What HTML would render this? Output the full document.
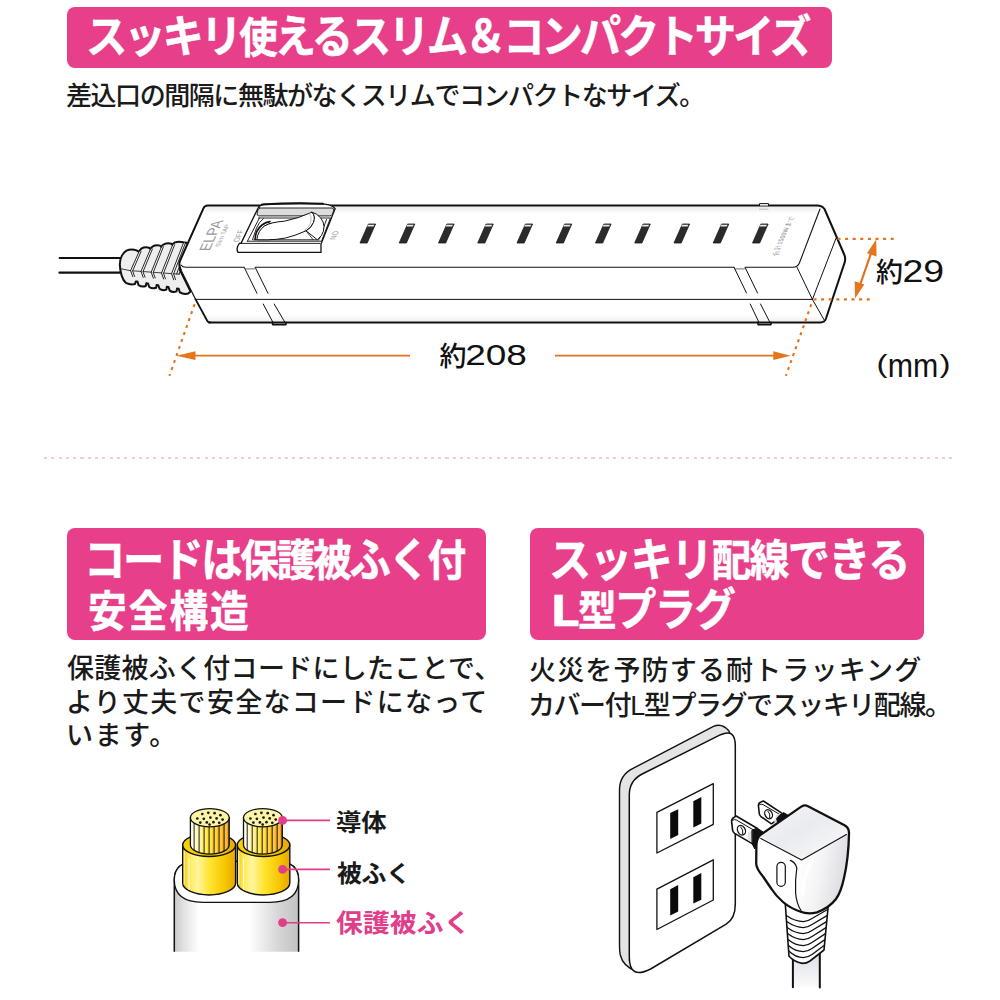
<!DOCTYPE html>
<html lang="ja">
<head>
<meta charset="utf-8">
<title>スリム＆コンパクトサイズ</title>
<style>
html,body{margin:0;padding:0;background:#fff;}
body{width:1000px;height:1000px;position:relative;overflow:hidden;font-family:"Liberation Sans","Noto Sans CJK JP",sans-serif;color:#111;}
.banner{position:absolute;background:#e73f8a;border-radius:8px;}
.h{position:absolute;white-space:nowrap;color:#fff;font-weight:700;transform-origin:0 0;line-height:1;font-family:"Noto Sans CJK JP",sans-serif;}
.h .k{font-size:1.07em;}
.h{-webkit-text-stroke:0.5px #fff;}
.h .L{display:inline-block;transform:scaleX(1.35);transform-origin:0 50%;margin-right:8px;}
.p{position:absolute;white-space:nowrap;color:#1a1a1a;font-weight:500;transform-origin:0 0;line-height:1;}
.dots{position:absolute;left:44px;top:457px;width:912px;height:2px;background:repeating-linear-gradient(90deg,#f5cbd9 0,#f5cbd9 3px,transparent 3px,transparent 7.3px);}
svg{position:absolute;left:0;top:0;}
</style>
</head>
<body>
<!-- top banner -->
<div class="banner" style="left:67px;top:7px;width:765px;height:61px;"></div>
<div class="h" id="t1" style="left:86px;top:11.5px;font-size:42px;letter-spacing:-3.32px;transform:scaleX(0.92);"><span class="k">スッキリ</span>使<span class="k">えるスリム＆コンパクトサイズ</span></div>
<div class="p" id="s1" style="left:66px;top:83px;font-size:26px;letter-spacing:-1.44px;">差込口の間隔に無駄がなくスリムでコンパクトなサイズ。</div>

<div class="dots"></div>

<!-- left banner -->
<div class="banner" style="left:67px;top:528px;width:419px;height:112px;"></div>
<div class="h" id="t2a" style="left:84px;top:532.7px;font-size:43px;letter-spacing:-2.59px;transform:scaleX(0.9);"><span class="k">コードは</span>保護被<span class="k">ふく</span>付</div>
<div class="h" id="t2b" style="left:88px;top:586.5px;font-size:43px;letter-spacing:2.22px;transform:scaleX(0.9);">安全構造</div>
<div class="p" id="b1" style="left:67px;top:656px;font-size:27px;letter-spacing:0.27px;">保護被ふく付コードにしたことで、</div>
<div class="p" id="b2" style="left:66px;top:690px;font-size:27px;letter-spacing:1.29px;">より丈夫で安全なコードになって</div>
<div class="p" id="b3" style="left:66px;top:723px;font-size:27px;letter-spacing:1.67px;">います。</div>

<!-- right banner -->
<div class="banner" style="left:530px;top:528px;width:394px;height:112px;"></div>
<div class="h" id="t3a" style="left:548.5px;top:532.5px;font-size:43px;letter-spacing:-1.77px;transform:scaleX(0.92);"><span class="k">スッキリ</span>配線<span class="k">できる</span></div>
<div class="h" id="t3b" style="left:549.5px;top:584.5px;font-size:42px;letter-spacing:-1.8px;transform:scaleX(0.92);"><span class="L">L</span>型<span class="k">プラグ</span></div>
<div class="p" id="c1" style="left:529px;top:658px;font-size:27px;letter-spacing:1.15px;">火災を予防する耐トラッキング</div>
<div class="p" id="c2" style="left:528px;top:693px;font-size:27px;letter-spacing:-1.44px;">カバー付L型プラグでスッキリ配線。</div>

<!-- cable labels -->
<div class="p" id="l1" style="left:336.4px;top:812px;font-size:23.5px;letter-spacing:-0.19px;transform:scaleX(1.08);font-weight:700;">導体</div>
<div class="p" id="l2" style="left:337.4px;top:862.8px;font-size:23.5px;letter-spacing:-0.38px;transform:scaleX(1.06);font-weight:700;">被ふく</div>
<div class="p" id="l3" style="left:336.2px;top:911px;font-size:25.5px;letter-spacing:0.14px;transform:scaleX(1.05);font-weight:700;color:#e03e8a;">保護被ふく</div>

<svg id="art" width="1000" height="1000" viewBox="0 0 1000 1000">
<!-- ============ POWER STRIP ============ -->
<defs>
  <linearGradient id="gTop" x1="0" y1="0" x2="0" y2="1"><stop offset="0" stop-color="#ececec"/><stop offset="1" stop-color="#fff"/></linearGradient>
  <linearGradient id="gBot" x1="0" y1="0" x2="0" y2="1"><stop offset="0" stop-color="#fff"/><stop offset="1" stop-color="#efefef"/></linearGradient>
</defs>
<g id="strip" fill="none" stroke="#111" stroke-linecap="round" stroke-linejoin="round">
  <!-- cord -->
  <path d="M59.5 258H122" stroke-width="1.8"/>
  <path d="M59.5 272.7H122" stroke-width="2.2"/>
  <!-- strain relief -->
  <path d="M119.8 264.6 Q120.2 254.5 126.4 250.6 Q131.4 248.4 136.6 250.4 L139 251.8 Q139.6 249.8 141.4 248.6 Q145 246.4 149.2 247.8 L150.4 249.2 Q151 247.4 152.8 246.4 Q155.8 244.6 160 245.6 L161.4 247 Q162 245.2 163.8 244.4 Q167.2 242.6 171.4 243.7 L172.6 245 Q173.2 243.2 175 242.4 Q178.6 241 183.4 242.2 L190 243.6 L181 262 L180 270 L190.6 291.5 L188.2 293.6 Q183.4 294.6 179.9 292.4 L178.7 288.8 L177 288.6 L176.6 291.4 Q172.6 292.8 169.7 290.6 L168.5 287 L166.8 286.8 L166.4 289.6 Q162.4 291 159.5 288.8 L158.3 285.2 L156.6 285 L156.2 287.8 Q152.2 289.2 149.2 287 L148 283.4 L146.3 283.2 L145.8 286 Q142 287.4 138.6 285.2 L137.4 281.4 L135.8 281.4 L135 284 Q130.6 285.2 125.8 282.8 Q120.6 278 119.8 264.6Z" fill="#eeeeee" stroke-width="2"/>
  <path d="M120 268.6 L130 270.6 L179.4 274.2" stroke-width="0.8"/>
  <g stroke="#fff" stroke-width="1.1">
    <path d="M140 251.8 L131.6 270.7 L133.7 276.5 M151.4 249.2 L142 271.5 L144.1 277.3 M162.4 247 L152.2 272.3 L154.3 278.1 M173.6 245 L162.5 273.1 L164.5 278.9 M184.4 243.2 L172.6 273.7 L174.6 279.7"/>
  </g>
  <g stroke-width="0.9">
    <path d="M139 251.8 L130.6 270.6 L132.8 276.6 M141 251.6 L132.6 270.9 L134.6 276.4"/>
    <path d="M150.4 249.2 L141 271.4 L143.2 277.4 M152.4 249 L143 271.7 L145 277.2"/>
    <path d="M161.4 247 L151.2 272.2 L153.4 278.2 M163.4 246.8 L153.2 272.5 L155.2 278"/>
    <path d="M172.6 245 L161.5 273 L163.6 279 M174.6 244.8 L163.5 273.3 L165.4 278.8"/>
    <path d="M183.4 243 L171.6 273.6 L173.7 279.8 M185.4 243 L173.6 273.9 L175.5 279.6"/>
    <path d="M187.4 245.5 L176.6 274 M189 248 L179 274.2"/>
  </g>
  <!-- body outline (filled white) -->
  <path d="M208 205.6 H817 Q822 205.6 824.5 209 L844.2 254.5 Q846 258.5 844.6 262.6 L826 318.5 Q824.6 322.4 820.5 322.4 H210 Q207.6 322.4 206.5 320 L195 298.6 L180.2 268.5 Q178.4 264.5 180 260.8 L203.3 208.6 Q204.6 205.6 208 205.6Z" fill="#fff" stroke="none"/>
  <path d="M207 206.6 H818 L816 214 H204Z" fill="url(#gTop)" stroke="none"/>
  <path d="M204.5 315 H820 L823.5 321.4 H208Z" fill="url(#gBot)" stroke="none"/>
  <path d="M180.6 269.3 L195.6 299.4" stroke-width="1.2"/>
  <path d="M195.6 299.4 L206.8 320 Q207.9 322.4 210.4 322.4" stroke-width="1.8"/>
  <path d="M180.6 269.3 Q178.4 264.5 180 260.8 L203.3 208.6 Q204.6 205.6 208 205.6 H817 Q822 205.6 824.5 209 L844.2 254.5 Q846 258.5 844.6 262.6 L826 318.5 Q824.6 322.4 820.5 322.4 H209" stroke-width="2"/>
  <!-- front edge of top face -->
  <path d="M181 265 Q182.5 267.3 186 267.3 H244.3 M255.3 267.3 H734.2 M745.2 267.3 H793 Q797.8 267.3 799.6 262.5 L820 209" stroke-width="1.1"/>
  <!-- middle line -->
  <path d="M195.2 299.4 H812.4" stroke-width="1"/>
  <!-- end face lines -->
  <path d="M836 238.3 L812.4 299.4 L824.5 320.5 M797 267.3 L812.4 299.4" stroke-width="1"/>
  <!-- bands left -->
  <path d="M245.5 268.8H254.5 M735.5 268.8H744.5" stroke="#888" stroke-width="1.2"/>
  <path d="M244.3 267.6 L257 293.3 M255.3 267.6 L268 293.3 M263.2 304 L273 322.5 M274.2 304 L285 322.5" stroke-width="1"/>
  <path d="M272.6 322.4 V324.6 H286 V322.4" stroke-width="1.6"/>
  <!-- bands right -->
  <path d="M734.2 267.6 L746.5 293 M745.2 267.6 L757.5 293 M750.2 304 L759 322.5 M760.5 304 L770 322.5" stroke-width="1"/>
  <path d="M758 322.4 V324.6 H771 V322.4" stroke-width="1.6"/>
  <!-- small bump at top right -->
  <path d="M759.5 205.6 V203.6 H768.5 V205.6" stroke-width="1" fill="#fff"/>
  <path d="M759.5 209.2 H768" stroke="#bbb" stroke-width="1"/>
</g>
<g id="switch" fill="none" stroke="#111" stroke-linecap="round" stroke-linejoin="round" stroke-width="1">
  <!-- frame outer -->
  <path d="M257.6 209 Q259.5 205 264 204.4 Q293 203 321.6 203.8 Q332 204.2 335.2 208.6 L321 244 V252.4 H238 Q235.6 248 239.4 243.4 H241 Z" fill="#fff" stroke-width="1.3"/>
  <path d="M262 204.6 Q293 202.6 323 203.8" stroke-width="2"/>
  <!-- grey top band -->
  <path d="M259.5 208 H332 Q334.6 208.3 333.6 211 L332.3 214.4 Q331.6 215.9 329.5 215.9 H258.8 Q256.4 215.6 257.2 213 L258 210 Q258.5 208.2 259.5 208Z" fill="#dcdcdc" stroke-width="0.9"/>
  <path d="M258.5 218 H330.5" stroke-width="0.9"/>
  <!-- inner side lines -->
  <path d="M259.4 218 L247.4 241.2 M263.5 218.5 Q259 222 256.5 228 L252.5 239.6 M330.2 218.6 L321.8 240.4 M326.5 219.5 L319.6 238.5" stroke-width="0.9"/>
  <!-- bottom bar -->
  <path d="M239.4 243.4 H319.8 M247.4 241.2 H321 M253.8 239.8 H319" stroke-width="0.9"/>
  <!-- pivot arcs -->
  <path d="M255 239.5 Q255.5 230 262 225 Q266 222 270 221.6" stroke-width="1.6"/>
  <path d="M257.6 239.5 Q258 231 264 226.4 Q268 223.4 273 223" stroke-width="0.8"/>
  <path d="M261.5 238.5 Q262.5 231 268 227 Q272 224.6 277 224.2" stroke="#999" stroke-width="0.9"/>
  <!-- rocker top surface -->
  <path d="M256.8 239.4 Q258 230.5 264.5 226 Q270.5 222.2 284.4 221.2 Q298 218.5 312 212.2 Q316 216 313.5 222.5 Q311 228.5 306 230.8 Q296 235.5 285.6 238 Q276 239.8 267.6 239.8 Z" fill="#fff" stroke-width="1"/>
  <path d="M309.5 213.6 Q312.5 217.5 310.5 223 Q308.6 227.8 304.5 230.4" stroke="#aaa" stroke-width="0.8"/>
  <!-- rocker right face -->
  <path d="M312 212.2 Q317 213.5 320.4 217.6 Q324 222 324 226.5 Q324 231.5 321.5 235.4 L317.4 239.8 L306 230.8 Q311 228.5 313.5 222.5 Q316 216 312 212.2Z" fill="#fff" stroke-width="1"/>
  <path d="M306 230.8 L313 239.6" stroke-width="0.8"/>
</g>
<!-- slots -->
<g id="slots">
  <defs>
    <g id="slot">
      <path d="M0 0 L7.2 0 L15.6 -19 L8.4 -19Z" fill="#2c2a2a" stroke="#1a1a1a" stroke-width="0.8" stroke-linejoin="round"/>
      <path d="M8 -18.2 L14.4 -18.2 L13.6 -16.4 L7.2 -16.4Z" fill="#e8e8e8"/>
    </g>
  </defs>
  <use href="#slot" x="360" y="243"/>
  <use href="#slot" x="399.2" y="243"/>
  <use href="#slot" x="438.5" y="243"/>
  <use href="#slot" x="477.7" y="243"/>
  <use href="#slot" x="517" y="243"/>
  <use href="#slot" x="556.2" y="243"/>
  <use href="#slot" x="595.5" y="243"/>
  <use href="#slot" x="634.7" y="243"/>
  <use href="#slot" x="674" y="243"/>
  <use href="#slot" x="713.2" y="243"/>
  <use href="#slot" x="752.5" y="243"/>
</g>
<!-- printed labels on strip -->
<g id="labels" fill="#9a9a9a" font-family="'Liberation Sans',sans-serif">
  <text transform="matrix(0.41 -0.91 1 0 209.5 251)" font-size="15.5" font-weight="400" textLength="34" lengthAdjust="spacingAndGlyphs">ELPA</text>
  <text transform="matrix(0.41 -0.91 1 0 219.5 247)" font-size="6.5" textLength="25" lengthAdjust="spacingAndGlyphs">Slim TAP</text>
  <text transform="matrix(0.41 -0.91 1 0 238.5 242)" font-size="8" textLength="13.5" lengthAdjust="spacingAndGlyphs">OFF</text>
  <text transform="matrix(-0.41 0.91 -1 0 333.5 231)" font-size="8" textLength="9.5" lengthAdjust="spacingAndGlyphs">ON</text>
  <text transform="matrix(0.41 -0.91 1 0 776.5 255.5)" fill="#8c8c8c" font-size="6.8" textLength="43" lengthAdjust="spacingAndGlyphs">合計1500Wまで</text>
</g>
<!-- ============ DIMENSIONS ============ -->
<g id="dims" fill="none" stroke="#e4711c" stroke-width="2.2">
  <path d="M837.5 238.9 H896" stroke-dasharray="3 4.6"/>
  <path d="M813.5 299.3 H870" stroke-dasharray="3 4.6"/>
  <path d="M194.6 304.2 L169.4 375.8" stroke-dasharray="3 4.4" stroke-width="2.1"/>
  <path d="M811.3 304.4 L785.9 375.8" stroke-dasharray="3 4.4" stroke-width="2.1"/>
  <path d="M189 355.7 H410 M555 355.7 H778" stroke-width="1.8"/>
  <path d="M872 250.5 L859.3 287" stroke-width="2.2"/>
  <g fill="#e6751c" stroke="none">
    <path d="M176.3 355.7 L195.5 351.3 L195.5 360.1Z"/>
    <path d="M790.7 355.7 L773.3 351.3 L773.3 360.1Z"/>
    <path d="M876.2 239.4 L876.6 256.5 L867 253.2Z"/>
    <path d="M855 298.4 L854.7 281.3 L864.3 284.6Z"/>
  </g>
</g>
<g id="dimtext" fill="#111">
  <text x="876" y="281.5" font-family="'Noto Sans CJK JP',sans-serif" font-size="27" font-weight="500">約</text>
  <text transform="translate(902.4 281.8) scale(1.17 1)" font-family="'Liberation Sans',sans-serif" font-size="32">29</text>
  <text x="439.5" y="366.3" font-family="'Noto Sans CJK JP',sans-serif" font-size="27" font-weight="500">約</text>
  <text transform="translate(465.2 365.2) scale(1.25 1)" font-family="'Liberation Sans',sans-serif" font-size="29.6">208</text>
  <g id="mm" font-family="'Liberation Sans',sans-serif"><text transform="translate(876.6 373.4) scale(1.25 1)" font-size="26.5">(</text><text transform="translate(887.8 377) scale(0.92 1)" font-size="33">mm</text><text transform="translate(939.6 373.4) scale(1.25 1)" font-size="26.5">)</text></g>
</g>
<!-- ============ CABLE CROSS-SECTION ============ -->
<defs>
  <linearGradient id="gSheath" x1="0" y1="0" x2="1" y2="0">
    <stop offset="0" stop-color="#c9c9c9"/><stop offset="0.07" stop-color="#e0e0e0"/><stop offset="0.2" stop-color="#fff"/>
    <stop offset="0.6" stop-color="#fff"/><stop offset="0.85" stop-color="#d4d4d4"/><stop offset="1" stop-color="#c2c2c2"/>
  </linearGradient>
  <linearGradient id="gIns" x1="0" y1="0" x2="1" y2="0">
    <stop offset="0" stop-color="#f0c000"/><stop offset="0.1" stop-color="#ffe84a"/><stop offset="0.28" stop-color="#fff6a0"/>
    <stop offset="0.5" stop-color="#ffe533"/><stop offset="0.8" stop-color="#f7c600"/><stop offset="1" stop-color="#e6a600"/>
  </linearGradient>
  <linearGradient id="gInsTop" x1="0" y1="0" x2="1" y2="0">
    <stop offset="0" stop-color="#f6d300"/><stop offset="0.6" stop-color="#f2c800"/><stop offset="1" stop-color="#e3ab00"/>
  </linearGradient>
  <pattern id="pStr" width="5" height="40" patternUnits="userSpaceOnUse" x="-20.2" y="810">
    <rect x="0.4" width="2" height="40" fill="#fff" fill-opacity="0.38"/>
    <rect x="4.05" width="0.95" height="40" fill="#111"/>
  </pattern>
  <linearGradient id="gCondShade" x1="0" y1="0" x2="1" y2="0">
    <stop offset="0" stop-color="#ffffff"/><stop offset="0.2" stop-color="#fff3a0"/><stop offset="0.42" stop-color="#ffe01a"/>
    <stop offset="0.68" stop-color="#f9bd00"/><stop offset="1" stop-color="#f09200"/>
  </linearGradient>
  <g id="cond">
    <!-- conductor centred at x=0 ; top ellipse cy=817.7 -->
    <path d="M-19.4 817.7 V845 A19.4 9.1 0 0 0 19.4 845 V817.7Z" fill="url(#gCondShade)" stroke="none"/>
    <path d="M-19.4 817.7 V845 A19.4 9.1 0 0 0 19.4 845 V817.7Z" fill="url(#pStr)" stroke="#111" stroke-width="1.3"/>
    <ellipse cx="0" cy="817.7" rx="19.4" ry="9.1" fill="#fdf4a8" stroke="#111" stroke-width="1.3"/>
    <g fill="#1a1a1a">
      <circle cx="-12.5" cy="818.5" r="1.35"/><circle cx="-7.5" cy="814" r="1.35"/><circle cx="-1.5" cy="812.8" r="1.35"/>
      <circle cx="4.8" cy="813.2" r="1.35"/><circle cx="10.6" cy="815.2" r="1.35"/><circle cx="-6" cy="818.8" r="1.35"/>
      <circle cx="0.6" cy="817.6" r="1.35"/><circle cx="6.8" cy="818.4" r="1.35"/><circle cx="12.8" cy="819.6" r="1.35"/>
      <circle cx="-9.5" cy="822.6" r="1.35"/><circle cx="-3" cy="822.4" r="1.35"/><circle cx="3.6" cy="822.2" r="1.35"/>
      <circle cx="9.4" cy="822.8" r="1.35"/><circle cx="-0.2" cy="824.6" r="1.35"/>
    </g>
  </g>
</defs>
<g id="cable" stroke-linejoin="round">
  <!-- outer sheath -->
  <path d="M174.3 880 V951.7 H298.6 V880 Q298.6 861.4 276 861.4 H197 Q174.3 861.4 174.3 880Z" fill="url(#gSheath)" stroke="none"/>
  <path d="M174.3 951.7 V880 Q174.3 861.4 197 861.4 H276 Q298.6 861.4 298.6 880 V951.7" fill="none" stroke="#111" stroke-width="1.5"/>
  <!-- top face of sheath (white) -->
  <path d="M174.3 880 Q174.3 861.4 197 861.4 H276 Q298.6 861.4 298.6 880 Q298.6 902.3 270 902.3 H203 Q174.3 902.3 174.3 880Z" fill="#fff" stroke="#111" stroke-width="1.3"/>
  <!-- insulators -->
  <g id="insL">
    <path d="M182.7 845 V883 A26.45 12 0 0 0 235.6 883 V845Z" fill="url(#gIns)" stroke="#111" stroke-width="1.4"/>
    <ellipse cx="209.15" cy="845" rx="26.45" ry="11.5" fill="url(#gInsTop)" stroke="#111" stroke-width="1.4"/>
    <path d="M184.2 851 V884.5 M189 858 V890" stroke="#fff" stroke-width="1.2" opacity="0.7" fill="none"/>
  </g>
  <g id="insR">
    <path d="M237.3 845 V883 A26.25 12 0 0 0 289.8 883 V845Z" fill="url(#gIns)" stroke="#111" stroke-width="1.4"/>
    <ellipse cx="263.55" cy="845" rx="26.25" ry="11.5" fill="url(#gInsTop)" stroke="#111" stroke-width="1.4"/>
    <path d="M238.8 851 V884.5 M243.6 858 V890" stroke="#fff" stroke-width="1.2" opacity="0.7" fill="none"/>
  </g>
  <use href="#cond" x="209.8"/>
  <use href="#cond" x="262.9"/>
  <!-- callouts -->
  <g stroke="#e03e8a" stroke-width="1.6" fill="none">
    <path d="M282.6 820.4 H330 M282.6 869.4 H330 M282.6 922.7 H330"/>
  </g>
  <g fill="#e03e8a">
    <circle cx="282.6" cy="820.4" r="4.4"/><circle cx="282.6" cy="869.4" r="4.4"/><circle cx="282.6" cy="922.7" r="4.4"/>
  </g>
</g>
<!-- ============ WALL OUTLET + L PLUG ============ -->
<defs>
  <linearGradient id="gPlugTop" x1="0" y1="0" x2="1" y2="1">
    <stop offset="0" stop-color="#f6f7f9"/><stop offset="0.45" stop-color="#e9ebf0"/><stop offset="1" stop-color="#fbfbfc"/>
  </linearGradient>
  <linearGradient id="gPlugR" x1="0" y1="0" x2="1" y2="0.3">
    <stop offset="0" stop-color="#e9eaee"/><stop offset="0.18" stop-color="#ffffff"/><stop offset="0.55" stop-color="#f4f4f6"/><stop offset="1" stop-color="#dcdde2"/>
  </linearGradient>
  <linearGradient id="gCord2" x1="0" y1="0" x2="0" y2="1">
    <stop offset="0" stop-color="#dcdee6"/><stop offset="1" stop-color="#fafafc"/>
  </linearGradient>
</defs>
<g id="outlet" stroke="#111" stroke-linejoin="round" stroke-linecap="round" fill="none">
  <!-- back/side of plate -->
  <path d="M619.5 790 Q619.5 775 633 768.4 L713.5 726.4 Q722 722.5 729 731 L735.3 748 V905 L629.3 960 L635 970.5 Q623 966 620.3 955 Q619.5 951 619.5 946Z" fill="#e4e4e4" stroke-width="1.4"/>
  <!-- front face -->
  <path d="M629.3 795 Q629.3 780.5 642.2 774 L720.6 734.7 Q735.3 728 735.3 746 V904 Q735.3 918.5 726.2 924.2 L650.6 969 Q629.3 980 629.3 957Z" fill="#fff" stroke-width="1.5"/>
  <!-- sockets -->
  <path d="M656.9 812.4 L713.3 783.7 V824.3 L656.9 853Z" fill="#fff" stroke-width="1.3"/>
  <path d="M656.9 889.2 L713.3 859.8 V900 L656.9 929.5Z" fill="#fff" stroke-width="1.3"/>
  <g fill="#0a0a0a" stroke="none">
    <path d="M670.2 813.1 L678.2 809.3 V835.1 L670.2 839Z"/>
    <path d="M693.3 801.2 L701.3 797 V823.6 L693.3 827.5Z"/>
    <path d="M670.2 889.2 L678.2 885 V911.6 L670.2 915.5Z"/>
    <path d="M693.3 877.3 L701.3 873.1 V899.7 L693.3 903.5Z"/>
  </g>
</g>
<g id="plug" stroke="#111" stroke-linejoin="round" stroke-linecap="round" fill="none">
  <!-- cord -->
  <path d="M792.9 955 V987.3 H819.8 V950Z" fill="url(#gCord2)" stroke="none"/>
  <path d="M792.9 957 V987.3 M819.8 953 V987.6" stroke-width="2"/>
  <!-- strain relief -->
  <path d="M785.3 904 L789 956.3 Q795 962.5 802.5 963.4 Q806.5 963.4 810 961 L824 950 L828.4 904Z" fill="#fff" stroke-width="1.6"/>
  <g stroke-width="1.3">
    <path d="M786.3 915.5 Q795 921.5 803.5 921.6 Q808 921.3 812 918.5 L827.6 909.5"/>
    <path d="M786.7 921.5 Q795.5 927.5 803.5 927.6 Q808 927.3 812 924.5 L827 915.6"/>
    <path d="M787.1 927.5 Q795.5 933.5 803.5 933.6 Q808 933.3 812 930.5 L826.5 921.6"/>
    <path d="M787.6 933.5 Q795.5 939.5 803.5 939.6 Q808 939.3 812 936.5 L826 927.6"/>
    <path d="M788 939.5 Q795.5 945.5 803.5 945.6 Q808 945.3 812 942.5 L825.4 933.6"/>
    <path d="M788.4 945.5 Q795.5 951.5 803.5 951.6 Q808 951.3 812 948.5 L824.9 939.6"/>
    <path d="M788.8 951 Q795.5 957.5 803.5 957.6 Q808 957.3 812 954.5 L824.4 945.2"/>
  </g>
  <!-- blades (upper/back one) -->
  <path d="M771.4 823.8 L761 816.6 Q759.2 815.4 759.2 813 L758.4 805.4 Q758.6 802.6 761.4 801.8 L763.4 801 L781 812.6 L783 816Z" fill="#fff" stroke-width="1.6"/>
  <path d="M759.6 804.6 Q761.2 803.6 763 804.6 L780 814.6" stroke-width="1"/>
  <path d="M776 815 L781 813 L783 816 L774 823Z" fill="#e2e2e2" stroke="none"/>
  <ellipse cx="768.6" cy="814.2" rx="3.6" ry="4.8" transform="rotate(-28 768.6 814.2)" fill="#fff" stroke-width="1.3"/>
  <path d="M768 811.2 Q770.6 813.6 769.8 817.6" stroke-width="1"/>
  <path d="M780.2 814.6 L783.6 812.6 L788 815.2 L782.6 819.6 L778 822.6 L776.6 819Z" fill="#111" stroke-width="1"/>
  <!-- blades (lower/front one) -->
  <path d="M752.2 843.6 L734.6 833.4 Q732.8 832.2 732.6 830.2 L731.6 821.4 Q731.6 818.4 734.4 817.2 L736.2 816 L757 828.2 L758 834Z" fill="#fff" stroke-width="1.6"/>
  <path d="M732.6 820.2 Q734.4 819 736.4 820 L754.6 830.6" stroke-width="1"/>
  <path d="M748 832 L754 830.4 L753 843 L747.6 840Z" fill="#e2e2e2" stroke="none"/>
  <ellipse cx="741.4" cy="830.2" rx="3.8" ry="5" transform="rotate(-28 741.4 830.2)" fill="#fff" stroke-width="1.3"/>
  <path d="M740.8 827 Q743.6 829.6 742.8 833.8" stroke-width="1"/>
  <path d="M752.2 830.2 L757 828 L763 832 L758.6 837 L757 843.4 L754.8 849 L752.2 844Z" fill="#111" stroke-width="1"/>
  <!-- body silhouette -->
  <path d="M760 835.2 L801.6 806.4 Q804.8 804.6 808 806.2 L844.5 825.3 Q849.3 828 849 833.5 Q848.6 858 844 878 Q841 892 836 899 Q829 908 817 912.3 Q808 914.6 800 911.5 Q790 908 783 902 Q776 896 771.5 889 L763 876.5 Q756.6 869 756.2 864 L756.4 845 Q756.8 838.5 760 835.2Z" fill="#fff" stroke="none"/>
  <!-- top face -->
  <path d="M760.6 836.4 L801.6 806.4 Q804.8 804.6 808 806.2 L844.5 825.3 Q848 827.5 848.6 831.5 L846.4 834.4 L801.6 860Z" fill="url(#gPlugTop)" stroke="none"/>
  <!-- right/front face -->
  <path d="M801.6 860 L846.4 834.4 L848.8 833 Q848.6 858 844 878 Q841 892 836 899 Q829 908 817 912.3 Q808 914.6 801.5 912 Q796.6 904 795.6 893 Q795 880 796.8 868 Q797.6 862.5 801.6 860Z" fill="url(#gPlugR)" stroke="none"/>
  <!-- highlight streak -->
  <path d="M812 860 Q803.5 876 802.5 894" stroke="#fff" stroke-width="3.2" opacity="0.9"/>
  <!-- inner edges -->
  <path d="M760.8 838.4 L801.6 860 L846.4 834.4" stroke-width="1.1"/>
  <path d="M790.4 860.4 Q795.5 862.5 796.8 868 Q795 880 795.6 893 Q796.6 904 801 910.5" stroke-width="1.2"/>
  <rect x="776.9" y="862.4" width="8.4" height="24" rx="4.2" fill="#fff" stroke-width="1.2"/>
  <!-- outline -->
  <path d="M760 835.2 L801.6 806.4 Q804.8 804.6 808 806.2 L844.5 825.3 Q849.3 828 849 833.5 Q848.6 858 844 878 Q841 892 836 899 Q829 908 817 912.3 Q808 914.6 800 911.5 Q790 908 783 902 Q776 896 771.5 889 L763 876.5 Q756.6 869 756.2 864 L756.4 845 Q756.8 838.5 760 835.2Z" stroke-width="2.3"/>
</g>
</svg>
</body>
</html>
